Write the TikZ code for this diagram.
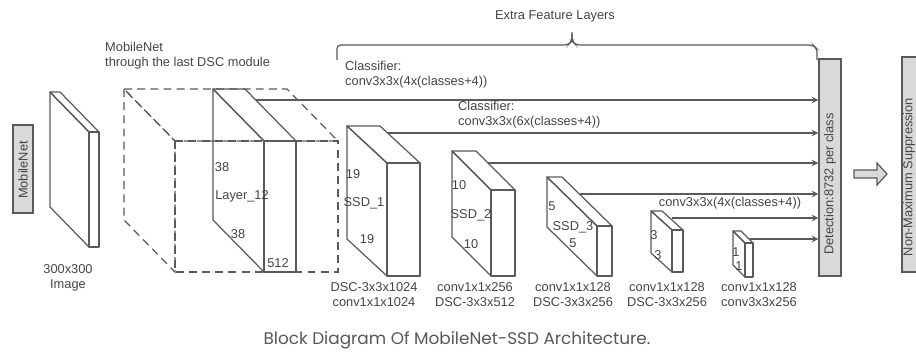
\documentclass[tikz,border=0pt]{standalone}
\usepackage{fontspec}
\setmainfont{Liberation Sans}
\newfontfamily\capfont{Poppins}
\usepackage{xcolor}

\definecolor{linegray}{HTML}{5A5A5A}
\definecolor{boxgray}{HTML}{D9D9D9}
\definecolor{textgray}{HTML}{454545}

\tikzset{
	lbl/.style={text=textgray, font=\fontsize{7.3}{8.6}\selectfont, inner sep=0.5pt},
	block/.style={draw=linegray, line width=0.7pt, line join=round},
	ghost/.style={draw=linegray, line width=0.7pt, dash pattern=on 4.5pt off 3pt},
	graybox/.style={draw=linegray, fill=boxgray, line width=0.7pt, inner sep=0pt},
	feed/.style={->, draw=linegray, line width=0.7pt},
}

% slab: back corner x,y, width, height, depth dx,dy, style
\newcommand{\featblock}[7]{%
	\draw[#7] (#1,#2) -- ++(#3,0) -- ++(#5,#6) -- ++(-#3,0) -- cycle;
	\draw[#7] (#1,#2) -- ++(0,#4) -- ++(#5,#6) -- ++(0,-#4) -- cycle;
	\draw[#7] (#1,#2) ++(#5,#6) rectangle ++(#3,#4);
}

\begin{document}
\begin{tikzpicture}[x=0.02cm, y=-0.02cm, >=stealth]
	\clip (0,0) rectangle (916,356);
	\fill[white] (0,0) rectangle (916,356);

	% input side
	\node[graybox, minimum width=0.4cm, minimum height=1.76cm] (mnet) at (23,169) {};
	\node[lbl, rotate=90] (mnettxt) at (23,170) {MobileNet};
	\featblock{50}{92}{10}{115}{39}{40}{block}
	\node[lbl, align=center] (imgtxt) at (68,277.5) {300x300\\Image};

	% backbone
	\node[lbl, anchor=west, align=left] (bbtxt) at (104,55.5) {MobileNet\\through the last DSC module};
	\featblock{124}{89}{163}{131}{51}{52}{ghost}
	\featblock{213}{89}{32}{131}{51}{52}{block}
	\node[lbl] (l12a) at (222,167) {38};
	\node[lbl] (l12n) at (242,196) {Layer\_12};
	\node[lbl] (l12b) at (238,234) {38};
	\node[lbl] (l12c) at (278,263) {512};

	% extra feature layers
	\featblock{347}{126}{33}{113}{40}{37}{block}
	\node[lbl] (s1a) at (353,174) {19};
	\node[lbl] (s1n) at (364,203) {SSD\_1};
	\node[lbl] (s1b) at (367,239) {19};
	\node[lbl, align=center] (s1txt) at (374,294.5) {DSC-3x3x1024\\conv1x1x1024};

	\featblock{452}{151}{24}{86}{39}{39}{block}
	\node[lbl] (s2a) at (459,185) {10};
	\node[lbl] (s2n) at (471,215) {SSD\_2};
	\node[lbl] (s2b) at (471,244) {10};
	\node[lbl, align=center] (s2txt) at (475,294.5) {conv1x1x256\\DSC-3x3x512};

	\featblock{547}{177}{15}{50}{50}{49}{block}
	\node[lbl] (s3a) at (552,206) {5};
	\node[lbl] (s3n) at (573,227) {SSD\_3};
	\node[lbl] (s3b) at (573,243) {5};
	\node[lbl, align=center] (s3txt) at (573,294.5) {conv1x1x128\\DSC-3x3x256};

	\featblock{651}{211}{11}{42}{21}{19}{block}
	\node[lbl] (s4a) at (654,235) {3};
	\node[lbl] (s4b) at (658,255) {3};
	\node[lbl, align=center] (s4txt) at (667,294.5) {conv1x1x128\\DSC-3x3x256};

	\featblock{733}{231}{8}{34}{12}{12}{block}
	\node[lbl] (s5a) at (736,252) {1};
	\node[lbl] (s5b) at (739,266) {1};
	\node[lbl, align=center] (s5txt) at (759,294.5) {conv1x1x128\\conv3x3x256};

	% brace
	\draw[linegray, line width=0.7pt, rounded corners=2pt]
		(337,60) -- (337,45) -- (568,45) -- (572,41) -- (572,32);
	\draw[linegray, line width=0.7pt, rounded corners=2pt]
		(572,34) -- (572,41) -- (576,45) -- (813,45) -- (817,49) -- (817,60);
	\node[lbl] (eflt) at (555,16) {Extra Feature Layers};

	% detection and suppression
	\node[graybox, minimum width=0.44cm, minimum height=4.34cm] (det) at (830,167.5) {};
	\node[lbl, rotate=90] (dettxt) at (830,184) {Detection:8732 per class};
	\node[graybox, minimum width=0.44cm, minimum height=4.3cm] (nms) at (913,164.5) {};
	\node[lbl, rotate=90] (nmstxt) at (909,177) {Non-Maximum Suppression};
	\draw[graybox] (854,170) -- (877,170) -- (877,163) -- (887,174)
		-- (877,185) -- (877,178) -- (854,178) -- cycle;

	% classifier feeds
	\coordinate (f0) at (256,100);
	\coordinate (f1) at (387,133);
	\coordinate (f2) at (488,163);
	\coordinate (f3) at (580,194);
	\coordinate (f4) at (672,218);
	\coordinate (f5) at (750,239);
	\foreach \f in {f0,f1,f2,f3,f4,f5}
		\draw[feed] (\f) -- (\f -| det.west);
	\node[lbl, anchor=west, align=left] (cls1) at (344,74.5) {Classifier:\\conv3x3x(4x(classes+4))};
	\node[lbl, anchor=west, align=left] (cls2) at (457,114.5) {Classifier:\\conv3x3x(6x(classes+4))};
	\node[lbl] (cls3) at (730,203) {conv3x3x(4x(classes+4))};

	% caption
	\node[text=textgray!90, font=\capfont\fontsize{9.6}{11}\selectfont] (cap) at (457,340)
		{Block Diagram Of MobileNet-SSD Architecture.};
\end{tikzpicture}
\end{document}
